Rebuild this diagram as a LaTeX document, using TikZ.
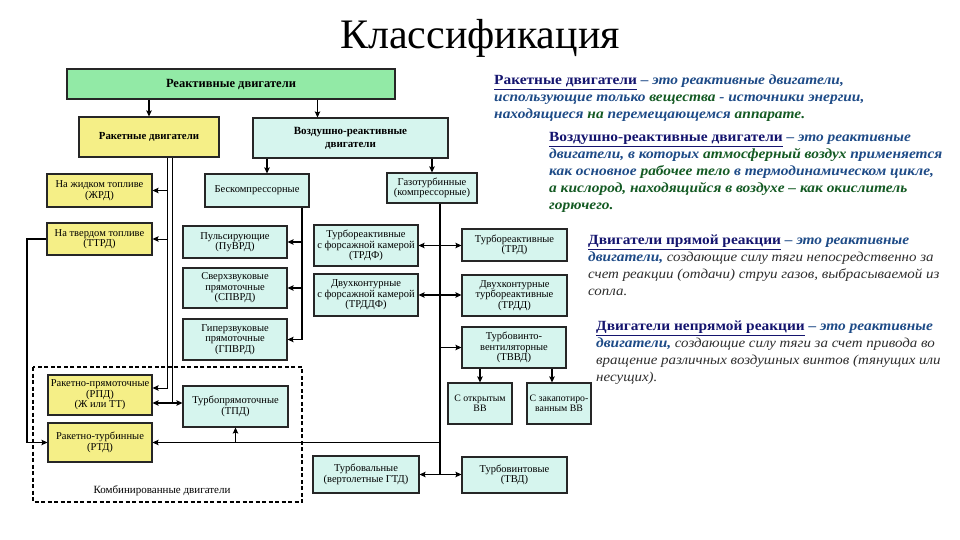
\documentclass[tikz,border=0pt]{standalone}
\usepackage{fontspec}
\setmainfont{Liberation Serif}
\newfontfamily\descfont[FakeStretch=1.1]{Liberation Serif}
\usepackage{xcolor}
\usetikzlibrary{arrows.meta}

\definecolor{hdrgreen}{RGB}{146,234,166}
\definecolor{rktyellow}{RGB}{245,239,135}
\definecolor{vrdcyan}{RGB}{214,245,238}
\definecolor{termnavy}{RGB}{20,20,110}
\definecolor{descblue}{RGB}{30,75,135}
\definecolor{descgreen}{RGB}{20,90,35}
\definecolor{plaingray}{RGB}{45,45,45}

\newcommand{\termname}[1]{\textcolor{termnavy}{\bfseries\underline{#1}}}
\newcommand{\descb}[1]{\textcolor{descblue}{\bfseries\itshape #1}}
\newcommand{\descg}[1]{\textcolor{descgreen}{\bfseries\itshape #1}}
\newcommand{\descp}[1]{\textcolor{plaingray}{\fontsize{13.6}{17}\selectfont\itshape #1}}

\begin{document}
\begin{tikzpicture}[x=1pt,y=-1pt,>={Stealth[length=6pt,width=5.5pt,inset=1pt]},
  box/.style={draw=black!85,line width=1.1pt,align=center,inner sep=1pt,
    font=\fontsize{10.5}{10.5}\selectfont},
  rktbox/.style={box,fill=rktyellow},
  vrdbox/.style={box,fill=vrdcyan},
  smallbox/.style={vrdbox,inner sep=0pt,font=\fontsize{9.8}{10.5}\selectfont},
  link/.style={line width=1.1pt},
  thinlink/.style={line width=0.8pt},
  desc/.style={anchor=north west,align=left,inner sep=0pt,
    font=\descfont\fontsize{14}{17}\selectfont}]

\useasboundingbox (0,0) rectangle (960,540);

% ---------- title ----------
\node[font=\fontsize{42}{44}\selectfont] (title) at (480,38) {Классификация};

% ---------- combined engines frame ----------
\draw[line width=2.2pt,dash pattern=on 4pt off 2.5pt] (33,367) rectangle (302,502);
\node[font=\fontsize{11}{12}\selectfont] (combolbl) at (162,491) {Комбинированные двигатели};

% ---------- top levels ----------
\node[box,fill=hdrgreen,minimum width=328,minimum height=30,
  font=\fontsize{12.5}{13}\selectfont\bfseries] (hdr) at (231,84) {Реактивные двигатели};
\node[rktbox,minimum width=140,minimum height=40,
  font=\fontsize{10.8}{12}\selectfont\bfseries] (rkt) at (149,137) {Ракетные двигатели};
\node[vrdbox,minimum width=195,minimum height=40,
  font=\fontsize{11}{13}\selectfont\bfseries] (vrd) at (350.5,138) {Воздушно-реактивные\\двигатели};
\node[vrdbox,minimum width=104,minimum height=33] (bk) at (257,190.5) {Бескомпрессорные};
\node[vrdbox,minimum width=90,minimum height=30] (gt) at (432,188) {Газотурбинные\\(компрессорные)};

% ---------- rocket engines ----------
\node[rktbox,minimum width=105,minimum height=33] (zhrd) at (99.5,190.5) {На жидком топливе\\(ЖРД)};
\node[rktbox,minimum width=105,minimum height=32] (ttrd) at (99.5,239) {На твердом топливе\\(ТТРД)};
\node[rktbox,minimum width=104,minimum height=40] (rpd) at (100,395) {Ракетно-прямоточные\\(РПД)\\(Ж или ТТ)};
\node[rktbox,minimum width=104,minimum height=39] (rtd) at (100,442.5) {Ракетно-турбинные\\(РТД)};

% ---------- ramjet family ----------
\node[vrdbox,minimum width=104,minimum height=32] (puvrd) at (235,242) {Пульсирующие\\(ПуВРД)};
\node[vrdbox,minimum width=104,minimum height=40] (spvrd) at (235,288) {Сверхзвуковые\\прямоточные\\(СПВРД)};
\node[vrdbox,minimum width=104,minimum height=41] (gpvrd) at (235,339.5) {Гиперзвуковые\\прямоточные\\(ГПВРД)};
\node[vrdbox,minimum width=105,minimum height=41] (tpd) at (235.5,406.5) {Турбопрямоточные\\(ТПД)};

% ---------- gas turbine family ----------
\node[vrdbox,minimum width=104,minimum height=41] (trdf) at (366,245.5) {Турбореактивные\\с форсажной камерой\\(ТРДФ)};
\node[vrdbox,minimum width=105,minimum height=32] (trd) at (514.5,245) {Турбореактивные\\(ТРД)};
\node[vrdbox,minimum width=104,minimum height=42] (trddf) at (366,295) {Двухконтурные\\с форсажной камерой\\(ТРДДФ)};
\node[vrdbox,minimum width=105,minimum height=41] (trdd) at (514.5,295.5) {Двухконтурные\\турбореактивные\\(ТРДД)};
\node[vrdbox,minimum width=104,minimum height=41] (tvvd) at (514,347.5) {Турбовинто-\\вентиляторные\\(ТВВД)};
\node[smallbox,minimum width=64,minimum height=41] (otkr) at (480,403.5) {С открытым\\ВВ};
\node[smallbox,minimum width=64,minimum height=41] (zak) at (559,403.5) {С закапотиро-\\ванным ВВ};
\node[vrdbox,minimum width=106,minimum height=37] (tval) at (366,474.5) {Турбовальные\\(вертолетные ГТД)};
\node[vrdbox,minimum width=105,minimum height=36] (tvint) at (514.5,475) {Турбовинтовые\\(ТВД)};

% ---------- bus lines ----------
\coordinate (busL) at (27,0);
\coordinate (busA) at (167,0);
\coordinate (busB) at (172,0);
\coordinate (busC) at (302,0);
\coordinate (busD) at (440,0);
\coordinate (vrdin) at ([xshift=-33pt]vrd.north);
\coordinate (bkin) at ([xshift=10pt]bk.north);
\coordinate (rpdin) at ([yshift=7pt]rpd.east);
\coordinate (rpdout) at ([yshift=-8pt]rpd.east);

% ---------- connectors ----------
\draw[link,->] (rkt.north |- hdr.south) -- (rkt.north);
\draw[link,->] (vrdin |- hdr.south) -- (vrdin);
\draw[link,->] (bkin |- vrd.south) -- (bkin);
\draw[link,->] (gt.north |- vrd.south) -- (gt.north);

\draw[thinlink,->] (busA |- rkt.south) |- (rpdin);
\draw[thinlink] (busB |- rkt.south) -- (busB |- rpdout);
\draw[thinlink,->] (busA |- zhrd.east) -- (zhrd.east);
\draw[thinlink,->] (busA |- ttrd.east) -- (ttrd.east);
\draw[link,<->] (rpdout) -- (rpdout -| tpd.west);
\draw[link,->] (ttrd.west) -- (busL |- ttrd.west) |- (rtd.west);

\draw[link] (busC |- bk.south) -- (busC |- gpvrd.east);
\foreach \n in {puvrd,spvrd,gpvrd}{
  \draw[link,->] (busC |- \n.east) -- (\n.east);
}

\draw[link] (busD |- gt.south) -- (busD |- tval.east);
\draw[link,<->] (trdf.east) -- (trdf.east -| trd.west);
\draw[link,<->] (trddf.east) -- (trddf.east -| trdd.west);
\draw[link,->] (busD |- tvvd.west) -- (tvvd.west);
\draw[link,<->] (tval.east) -- (tval.east -| tvint.west);
\draw[link,->] (busD |- rtd.east) -- (rtd.east);
\draw[link,->] (tpd.south |- rtd.east) -- (tpd.south);
\draw[link,->] (otkr.north |- tvvd.south) -- (otkr.north);
\draw[link,->] ([xshift=-7pt]zak.north |- tvvd.south) -- ([xshift=-7pt]zak.north);

% ---------- definitions ----------
\node[desc] (defrkt) at (494,75) {%
\termname{Ракетные двигатели}\descb{ – это реактивные двигатели,}\\
\descb{использующие только }\descg{вещества}\descb{ - источники энергии,}\\
\descb{находящиеся }\descg{на}\descb{ перемещающемся }\descg{аппарате.}};

\node[desc] (defvrd) at (549,132) {%
\termname{Воздушно-реактивные двигатели}\descb{ – это реактивные}\\
\descb{двигатели, в которых }\descg{атмосферный воздух}\descb{ применяется}\\
\descb{как основное }\descg{рабочее тело}\descb{ в термодинамическом цикле,}\\
\descg{а кислород, находящийся в воздухе – как окислитель}\\
\descg{горючего.}};

\node[desc] (defdir) at (588,235) {%
\termname{Двигатели прямой реакции}\descb{ – это реактивные}\\
\descb{двигатели,}\descp{ создающие силу тяги непосредственно за}\\
\descp{счет реакции (отдачи) струи газов, выбрасываемой из}\\
\descp{сопла.}};

\node[desc] (defind) at (596,321) {%
\termname{Двигатели непрямой реакции}\descb{ – это реактивные}\\
\descb{двигатели,}\descp{ создающие силу тяги за счет привода во}\\
\descp{вращение различных воздушных винтов (тянущих или}\\
\descp{несущих).}};

\end{tikzpicture}
\end{document}
